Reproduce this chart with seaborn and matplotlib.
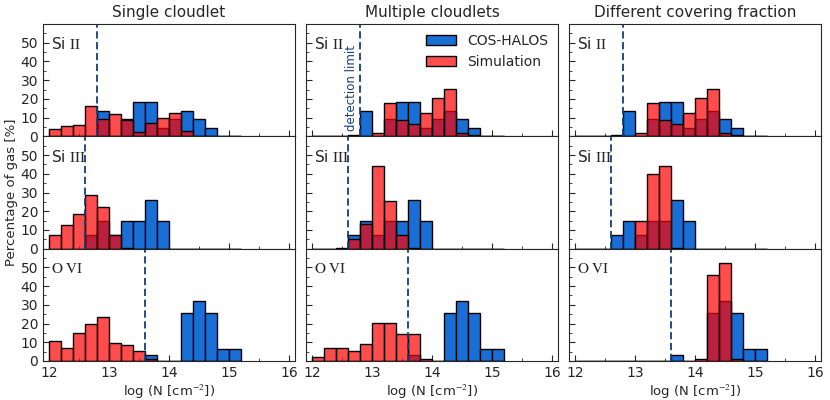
import numpy as np
import pandas as pd
import seaborn as sns
import matplotlib.pyplot as plt
from matplotlib.ticker import MultipleLocator

sns.set_style("ticks")
plt.rcParams['font.family'] = ['DejaVu Sans']
plt.rcParams['mathtext.fontset'] = 'stix'

# Бины по log N (ширина 0.2 dex)
edges = [round(12.0 + 0.2 * k, 1) for k in range(17)]
centers = [e + 0.1 for e in edges[:-1]]

columns = ['Single cloudlet', 'Multiple cloudlets', 'Different covering fraction']
ions = [r'Si $\mathrm{II}$', r'Si $\mathrm{III}$', r'$\mathrm{O\ VI}$']
det_limits = [12.8, 12.6, 13.6]

# COS-HALOS (одинаково во всех колонках), % на бин
cos_si2 = [0, 0, 0, 0, 13.6, 0, 9.1, 18.2, 18.2, 4.5, 9.1, 13.6, 9.1, 4.5, 0, 0]
cos_si3 = [0, 0, 0, 7.4, 14.8, 7.4, 14.8, 14.8, 25.9, 14.8, 0, 0, 0, 0, 0, 0]
cos_o6 = [0, 0, 0, 0, 0, 0, 0, 0, 3.2, 0, 0, 25.8, 32.3, 25.8, 6.5, 6.5]

# Симуляция: single cloudlet
single_si2 = [3.7, 5.4, 6.1, 16.3, 9.1, 11.8, 8.7, 2.1, 7.3, 9.8, 12.5, 3.0, 0, 0, 0, 0]
single_si3 = [7.4, 12.7, 18.6, 28.9, 22.1, 7.2, 0.5, 0, 0, 0, 0, 0, 0, 0, 0, 0]
single_o6 = [10.8, 7.0, 14.9, 19.7, 23.3, 9.7, 8.8, 5.6, 1.1, 0, 0, 0, 0, 0, 0, 0]

# Симуляция: multiple cloudlets
multi_si2 = [0, 0, 0, 0.7, 0, 1.6, 17.7, 8.8, 6.4, 12.7, 20.5, 25.5, 1.6, 0.7, 0, 0]
multi_si3 = [0, 0, 0.5, 5.4, 13.4, 44.1, 25.7, 7.4, 0.5, 0, 0, 0, 0, 0, 0, 0]
multi_o6 = [2.2, 7.2, 7.2, 5.2, 9.1, 20.4, 20.4, 14.3, 14.3, 1.3, 0, 0, 0, 0, 0, 0]

# Симуляция: different covering fraction
cover_si2 = [0, 0, 0, 0.7, 0, 1.6, 17.7, 8.8, 6.4, 12.7, 20.5, 25.5, 1.6, 0.7, 0, 0]
cover_si3 = [0, 0, 0, 0, 0, 15.0, 40.1, 44.1, 0.5, 0, 0, 0, 0, 0, 0, 0]
cover_o6 = [0, 0, 0, 0, 0, 0, 0, 0, 0, 0, 1.1, 46.1, 52.3, 0.9, 0, 0]

cos_data = [cos_si2, cos_si3, cos_o6]
sim_data = [
    [single_si2, single_si3, single_o6],
    [multi_si2, multi_si3, multi_o6],
    [cover_si2, cover_si3, cover_o6],
]

blue = '#1a6fd6'
navy = '#123f7a'

fig, axes = plt.subplots(3, 3, figsize=(8.3, 4), dpi=100, sharex=True, sharey=True)
fig.subplots_adjust(left=0.052, right=0.989, top=0.94, bottom=0.0975,
                    wspace=0.044, hspace=0)

for j in range(3):
    for i in range(3):
        ax = axes[i, j]
        df = pd.DataFrame({'logN': centers, 'cos': cos_data[i], 'sim': sim_data[j][i]})
        sns.histplot(data=df, x='logN', weights='cos', bins=edges, ax=ax,
                     color=blue, alpha=1, edgecolor='black', linewidth=1,
                     label='COS-HALOS')
        sns.histplot(data=df, x='logN', weights='sim', bins=edges, ax=ax,
                     color='red', alpha=0.7, edgecolor='black', linewidth=1,
                     label='Simulation')
        ax.axvline(det_limits[i], color=navy, ls=(0, (4, 2)), lw=1.3)
        ax.text(0.03, 0.82, ions[i], transform=ax.transAxes, fontsize=11,
                va='center', ha='left')

        ax.set_xlim(11.9, 16.1)
        ax.set_ylim(0, 60)
        ax.set_xticks([12, 13, 14, 15, 16])
        ax.set_yticks([0, 10, 20, 30, 40, 50])
        ax.xaxis.set_minor_locator(MultipleLocator(0.5))
        ax.yaxis.set_minor_locator(MultipleLocator(5))
        ax.tick_params(which='both', direction='in', labelsize=10)
        ax.tick_params(which='major', length=4)
        ax.tick_params(which='minor', length=2)
        ax.set_ylabel('')
        ax.set_xlabel('')
        if i == 0:
            ax.set_title(columns[j], fontsize=11, pad=5)
        if i == 2:
            ax.set_xlabel('log (N [cm$^{-2}$])', fontsize=9.5, labelpad=2)

axes[1, 0].set_ylabel('Percentage of gas [%]', fontsize=9.5, labelpad=2)

# подпись предела обнаружения и легенда
axes[0, 1].text(12.76, 3, 'detection limit', rotation=90, color=navy,
                fontsize=8.5, ha='right', va='bottom')
axes[0, 1].legend(loc='upper right', frameon=False, fontsize=10,
                  handlelength=2.2, borderaxespad=0.3)

plt.savefig('out.png', dpi=100)
